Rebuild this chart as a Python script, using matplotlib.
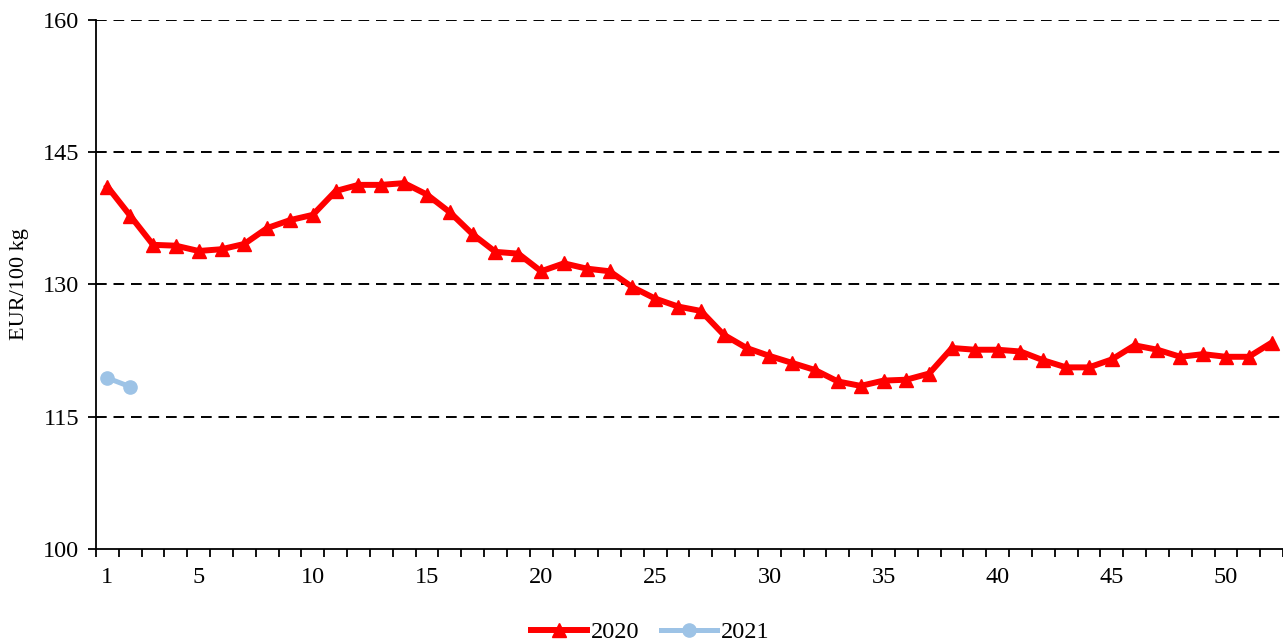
import matplotlib.pyplot as plt
import numpy as np

weeks_2020 = list(range(1, 53))
price_2020 = [141.1, 137.8, 134.5, 134.4, 133.8, 134.0, 134.6, 136.4, 137.3, 137.9,
              140.6, 141.3, 141.3, 141.5, 140.2, 138.2, 135.7, 133.7, 133.5, 131.5,
              132.4, 131.8, 131.5, 129.7, 128.4, 127.5, 127.0, 124.3, 122.8, 121.9,
              121.1, 120.3, 119.0, 118.5, 119.1, 119.2, 119.9, 122.8, 122.6, 122.6,
              122.4, 121.4, 120.6, 120.6, 121.5, 123.1, 122.6, 121.8, 122.1, 121.8,
              121.8, 123.4]
weeks_2021 = [1, 2]
price_2021 = [119.4, 118.4]

y_ticks = [100, 115, 130, 145, 160]
x_labels = [1, 5, 10, 15, 20, 25, 30, 35, 40, 45, 50]

plt.rcParams['font.family'] = ['Liberation Serif', 'DejaVu Serif']

fig = plt.figure(figsize=(12.83, 6.43), dpi=100)
ax = fig.add_axes([0.0748, 0.1462, 1 - 0.0748, 0.8227])

# grid lines
for v in y_ticks[1:]:
    ax.axhline(v, color='black', lw=1.4, ls=(0, (5.5, 3.5)), zorder=1)

ax.plot(weeks_2020, price_2020, color='#FF0000', lw=4.3, marker='^', ms=10.5,
        label='2020', zorder=3, clip_on=False)
ax.plot(weeks_2021, price_2021, color='#9DC3E6', lw=3.6, marker='o', ms=9.5,
        label='2021', zorder=3)

ax.set_ylim(100, 160)
ax.set_xlim(0.5, 52.33)
ax.set_yticks(y_ticks)
ax.tick_params(axis='y', direction='out', length=6, width=1.3, pad=6, labelsize=17.5)

ax.set_xticks(x_labels)
ax.set_xticks(np.arange(0.5, 53, 1), minor=True)
ax.tick_params(axis='x', which='major', length=0, pad=13, labelsize=17.5)
ax.tick_params(axis='x', which='minor', direction='out', length=6, width=1.3)

ax.spines['top'].set_visible(False)
ax.spines['right'].set_visible(False)
ax.spines['left'].set_linewidth(1.3)
ax.spines['bottom'].set_linewidth(1.3)

ax.set_ylabel('EUR/100 kg', fontsize=16)
ax.yaxis.set_label_coords(-0.056, 0.5)

fig.legend(loc='center', bbox_to_anchor=(0.5066, 0.0171), ncol=2, frameon=False,
           fontsize=17.5, handlelength=2.3, handletextpad=0.15, columnspacing=0.9)

fig.savefig('out.png', dpi=100)
